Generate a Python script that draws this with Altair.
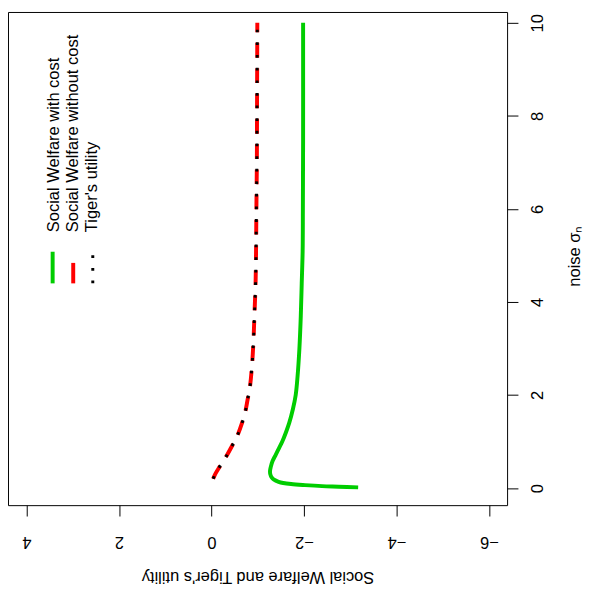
import altair as alt
import pandas as pd

# ---- data (x: noise sigma_n, y: welfare / utility) ----
noise_with_cost = [0.015, 0.03, 0.042, 0.064, 0.087, 0.11, 0.135, 0.18, 0.23, 0.3, 0.37, 0.45,
                   0.58, 0.72, 0.86, 1.0, 1.2, 1.4, 1.7, 2.0, 2.4, 3.0, 3.7, 4.4, 5.1, 6.0, 7.5, 10.0]
welfare_with_cost = [-3.17, -2.75, -2.39, -2.02, -1.72, -1.55, -1.45, -1.35, -1.30, -1.27, -1.265, -1.28,
                     -1.32, -1.39, -1.46, -1.53, -1.61, -1.68, -1.76, -1.82, -1.86, -1.90, -1.93, -1.95,
                     -1.97, -1.975, -1.98, -1.98]

noise_no_cost = [0.2, 0.3, 0.45, 0.65, 0.9, 1.13, 1.4, 1.64, 1.9, 2.17, 2.7, 3.24,
                 3.78, 4.32, 4.85, 6.0, 7.0, 8.5, 10.0]
welfare_no_cost = [-0.035, -0.08, -0.17, -0.30, -0.44, -0.56, -0.66, -0.73, -0.78, -0.83,
                   -0.88, -0.91, -0.93, -0.95, -0.96, -0.97, -0.98, -0.985, -0.99]
tiger_utility = [-0.035, -0.08, -0.17, -0.30, -0.44, -0.56, -0.66, -0.73, -0.78, -0.83,
                 -0.88, -0.91, -0.93, -0.95, -0.96, -0.97, -0.98, -0.985, -0.99]

welfare_ticks = [4, 2, 0, -2, -4, -6]
noise_ticks = [0, 2, 4, 6, 8, 10]

legend_labels = ["Social Welfare with cost", "Social Welfare without cost", "Tiger's utility"]
legend_colors = ["#00CD00", "#FF0000", "#000000"]
legend_sym_x = [3.435, 2.99, 2.567]        # in welfare units
legend_sym_y0 = [4.40, 4.40, 4.40]         # in noise units
legend_sym_y1 = [5.08, 4.84, 5.08]
legend_text_x = [3.40, 3.00, 2.58]
legend_text_y = [5.50, 5.50, 5.50]

FONT = "Liberation Sans"
FS = 16.7

xscale = alt.Scale(domain=[-6.39, 4.40], reverse=True, nice=False, zero=False)
yscale = alt.Scale(domain=[-0.367, 10.233], nice=False, zero=False)

df_g = pd.DataFrame({"i": range(len(noise_with_cost)), "noise": noise_with_cost, "w": welfare_with_cost})
df_r = pd.DataFrame({"i": range(len(noise_no_cost)), "noise": noise_no_cost, "w": welfare_no_cost})
df_k = pd.DataFrame({"i": range(len(noise_no_cost)), "noise": noise_no_cost, "w": tiger_utility})

x_axis = alt.Axis(values=welfare_ticks, orient="bottom", grid=False, domain=False, tickSize=11,
                  tickColor="black", labelColor="black", labelFont=FONT, labelFontSize=FS,
                  labelAngle=180, labelAlign="center", labelBaseline="middle", labelPadding=26,
                  title="Social Welfare and Tiger's utility", titleFont=FONT, titleFontSize=FS,
                  titleFontWeight="normal", titleColor="black", titleAngle=180,
                  titleAlign="center", titleBaseline="middle", titleX=253, titleY=72,
                  labelFlush=False, labelOverlap=False)
y_axis = alt.Axis(values=noise_ticks, orient="right", grid=False, domain=False, tickSize=11,
                  tickColor="black", labelColor="black", labelFont=FONT, labelFontSize=FS,
                  labelAngle=270, labelAlign="center", labelBaseline="middle", labelPadding=20,
                  title="noise σₙ", titleFont=FONT, titleFontSize=FS, titleFontWeight="normal",
                  titleColor="black", titleAngle=270, titleAlign="center", titleBaseline="middle",
                  titleX=68, titleY=247, labelFlush=False, labelOverlap=False)

base_enc = dict(
    x=alt.X("w:Q", scale=xscale, axis=x_axis),
    y=alt.Y("noise:Q", scale=yscale, axis=y_axis),
    order=alt.Order("i:Q"),
)

green = alt.Chart(df_g).mark_line(color="#00CD00", strokeWidth=4, interpolate="catmull-rom",
                                  strokeCap="butt", clip=True).encode(**base_enc)
red = alt.Chart(df_r).mark_line(color="#FF0000", strokeWidth=4, strokeDash=[15, 10.6],
                                interpolate="catmull-rom", strokeCap="butt", clip=True).encode(**base_enc)
black = alt.Chart(df_k).mark_line(color="#000000", strokeWidth=3, strokeDash=[2.8, 10],
                                  interpolate="catmull-rom", strokeCap="butt", clip=True).encode(**base_enc)

df_leg = pd.DataFrame({"label": legend_labels, "color": legend_colors,
                       "sx": legend_sym_x, "sy0": legend_sym_y0, "sy1": legend_sym_y1,
                       "tx": legend_text_x, "ty": legend_text_y})

leg_g = alt.Chart(df_leg.iloc[[0]]).mark_rule(color="#00CD00", strokeWidth=4, strokeCap="butt").encode(
    x=alt.X("sx:Q", scale=xscale), y=alt.Y("sy0:Q", scale=yscale), y2="sy1:Q")
leg_r = alt.Chart(df_leg.iloc[[1]]).mark_rule(color="#FF0000", strokeWidth=4, strokeCap="butt").encode(
    x=alt.X("sx:Q", scale=xscale), y=alt.Y("sy0:Q", scale=yscale), y2="sy1:Q")
leg_k = alt.Chart(df_leg.iloc[[2]]).mark_rule(color="#000000", strokeWidth=3, strokeDash=[2.8, 10],
                                              strokeCap="butt").encode(
    x=alt.X("sx:Q", scale=xscale), y=alt.Y("sy0:Q", scale=yscale), y2="sy1:Q")
leg_t = alt.Chart(df_leg).mark_text(angle=270, align="left", baseline="middle", font=FONT,
                                    fontSize=FS, color="black").encode(
    x=alt.X("tx:Q", scale=xscale), y=alt.Y("ty:Q", scale=yscale), text="label:N")

chart = alt.layer(green, red, black, leg_g, leg_r, leg_k, leg_t).properties(
    width=506, height=500,
    autosize=alt.AutoSizeParams(type="none"),
    padding={"left": 0, "top": 0, "right": 80, "bottom": 84},
).configure_view(stroke="black", strokeWidth=1)

chart.save("out.html", embed_options={"renderer": "svg", "actions": False})
